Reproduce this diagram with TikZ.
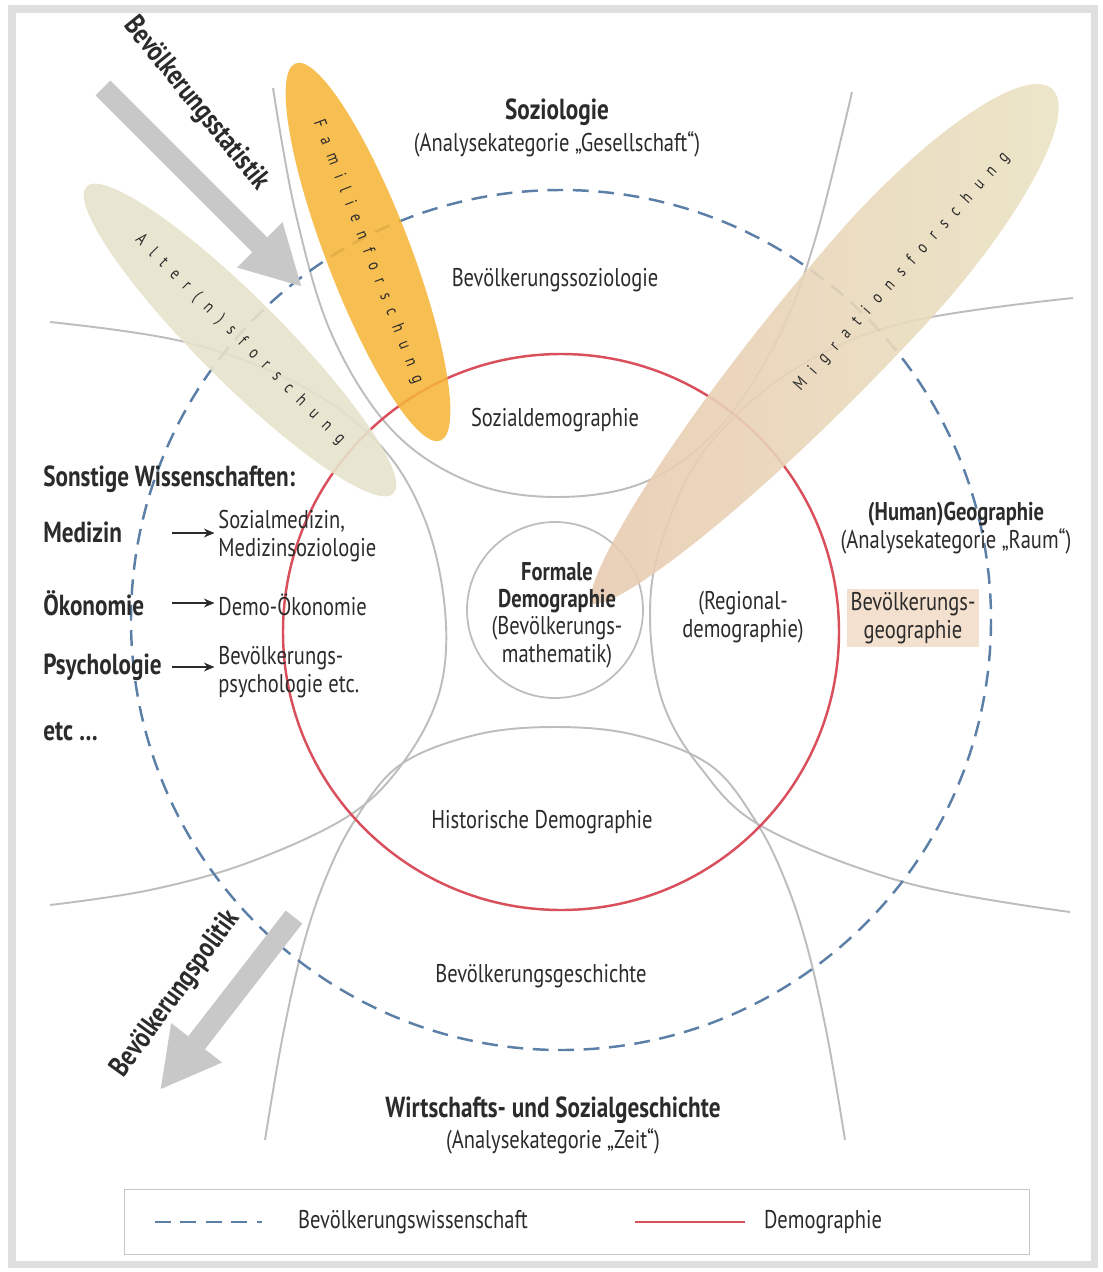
\documentclass[tikz,border=0pt]{standalone}
\usepackage{fontspec}
\setmainfont{PT Sans}[FakeStretch=0.8]
\usetikzlibrary{shapes.geometric,arrows.meta}

\definecolor{ink}{HTML}{2B2B2B}
\definecolor{dashblue}{HTML}{5B7FA6}
\definecolor{demred}{HTML}{D94F5C}
\definecolor{zonegray}{HTML}{BDBDBD}
\definecolor{arrowgray}{HTML}{C8C8C8}
\definecolor{famorange}{HTML}{F6B53A}
\definecolor{altbeige}{HTML}{E6E2CB}
\definecolor{migtop}{HTML}{EAE4C4}
\definecolor{migbot}{HTML}{E8CAB0}
\definecolor{geopeach}{HTML}{F4E0CE}

\begin{document}
\begin{tikzpicture}[x=0.2mm,y=-0.2mm,
  every node/.style={inner sep=0pt,text=ink},
  lbl/.style={font=\fontsize{14.6}{15.6}\selectfont,align=center},
  bold/.style={font=\bfseries\fontsize{16.5}{17}\selectfont,align=center},
  zone/.style={draw=zonegray,line width=1.1pt},
  bwiss/.style={draw=dashblue,line width=1.4pt,dash pattern=on 9pt off 5.5pt},
  demo/.style={draw=demred,line width=1.4pt},
  blob/.style={ellipse,inner sep=0pt},
  bigarrow/.style={draw=arrowgray,line width=12pt,-{Triangle[length=34pt,width=34pt]}},
  listarrow/.style={draw=ink,line width=1pt,-{Stealth[length=6pt,width=5pt]}}]
\useasboundingbox (0,0) rectangle (1102,1272);
% frame
\draw[gray!25,line width=4pt] (12,9) rectangle (1094,1264);

% boundaries of the neighbouring disciplines
\draw[zone] plot[smooth,tension=0.6] coordinates {(273,88) (296,215) (332,335) (392,430) (470,482) (557,497) (645,482) (717,430) (777,340) (815,240) (852,92)};
\draw[zone] plot[smooth,tension=0.6] coordinates {(50,322) (185,342) (300,385) (380,445) (425,520) (445,610) (440,690) (405,760) (350,815) (250,862) (150,890) (50,905)};
\draw[zone] plot[smooth,tension=0.6] coordinates {(1073,298) (903,323) (790,372) (705,450) (662,540) (650,615) (662,700) (700,767) (763,827) (907,883) (1070,912)};
\draw[zone] plot[smooth,tension=0.6] coordinates {(265,1140) (282,1040) (302,950) (325,880) (355,820) (400,765) (475,735) (555,727) (635,735) (710,765) (755,820) (785,880) (808,950) (828,1040) (845,1140)};

\draw[demo] (561,632) circle[radius=278];
\draw[bwiss] (561,620) circle[radius=430];
\node[circle,draw=zonegray,line width=1pt,minimum size=35.2mm] (formal) at (555,610) {};

% research fields
\node[blob,fill=altbeige,fill opacity=0.9,text opacity=1,minimum width=86.8mm,minimum height=16.8mm,rotate=-45] (alter) at (240,340) {\fontsize{10}{12}\selectfont\addfontfeature{LetterSpace=60}Alter(n)sforschung};
\begin{scope}[shift={(822,346)},rotate=48.2]
  \shade[left color=migbot,right color=migtop,fill opacity=0.9]
    (-345,0) .. controls (-340,-22) and (-160,-60) .. (100,-63)
    .. controls (235,-63) and (345,-35) .. (345,0)
    .. controls (345,35) and (235,63) .. (100,63)
    .. controls (-160,60) and (-340,22) .. (-345,0) -- cycle;
\end{scope}
\node[font=\fontsize{10}{12}\selectfont\addfontfeature{LetterSpace=60},rotate=48.2] (migrtxt) at (902,272) {Migrationsforschung};
\node[blob,fill=famorange,fill opacity=0.88,text opacity=1,minimum width=80.8mm,minimum height=16.8mm,rotate=-69] (famil) at (368,252) {\fontsize{10}{12}\selectfont\addfontfeature{LetterSpace=60}Familienforschung};

% arrows
\coordinate (statA) at (103,88);
\coordinate (statB) at (302,287);
\draw[bigarrow] (statA) -- (statB);
\node[bold,rotate=-51] (stat) at (196,104) {Bevölkerungsstatistik};
\coordinate (polA) at (294,917);
\coordinate (polB) at (160,1090);
\draw[bigarrow] (polA) -- (polB);
\node[bold,rotate=54] (pol) at (176,994) {Bevölkerungspolitik};

% disciplines
\node[bold] (soz) at (557,112) {Soziologie};
\node[lbl] (sozk) at (557,144) {(Analysekategorie „Gesellschaft“)};
\node[lbl] (bsoz) at (555,280) {Bevölkerungssoziologie};
\node[lbl] (sdem) at (555,420) {Sozialdemographie};
\node[lbl] (fdem) at (557,615) {\textbf{Formale}\\\textbf{Demographie}\\(Bevölkerungs-\\mathematik)};
\node[lbl] (rdem) at (743,617) {(Regional-\\demographie)};
\node[lbl] (geo) at (956,528) {\textbf{(Human)Geographie}\\(Analysekategorie „Raum“)};
\node[lbl,fill=geopeach,inner sep=2pt] (bgeo) at (913,618) {Bevölkerungs-\\geographie};
\node[lbl] (hdem) at (542,822) {Historische Demographie};
\node[lbl] (bges) at (541,976) {Bevölkerungsgeschichte};
\node[bold] (wsg) at (553,1110) {Wirtschafts- und Sozialgeschichte};
\node[lbl] (wsgk) at (553,1141) {(Analysekategorie „Zeit“)};

% other sciences
\node[bold,anchor=west] (sonst) at (43,479) {Sonstige Wissenschaften:};
\node[bold,anchor=west] (med) at (43,532) {Medizin};
\node[lbl,anchor=west,align=left] (sozmed) at (218,536) {Sozialmedizin,\\Medizinsoziologie};
\node[bold,anchor=west] (oek) at (43,603) {Ökonomie};
\node[lbl,anchor=west] (demoek) at (218,605) {Demo-Ökonomie};
\node[bold,anchor=west] (psy) at (43,667) {Psychologie};
\node[lbl,anchor=west,align=left] (bpsy) at (218,672) {Bevölkerungs-\\psychologie etc.};
\node[bold,anchor=west] (etc) at (43,732) {etc \dots};
\coordinate (m1) at (172,533);
\coordinate (m2) at (172,603);
\coordinate (m3) at (172,667);
\draw[listarrow] (m1) -- ([xshift=-2pt]m1 -| sozmed.west);
\draw[listarrow] (m2) -- ([xshift=-2pt]m2 -| demoek.west);
\draw[listarrow] (m3) -- ([xshift=-2pt]m3 -| bpsy.west);

% legend
\node[draw=gray!45,line width=1pt,minimum width=181mm,minimum height=13mm] (legend) at (577,1222) {};
\coordinate (l1) at (155,1222);
\coordinate (l2) at (262,1222);
\draw[bwiss] (l1) -- (l2);
\node[lbl] (lbw) at (413,1222) {Bevölkerungswissenschaft};
\coordinate (l3) at (635,1222);
\coordinate (l4) at (745,1222);
\draw[demo] (l3) -- (l4);
\node[lbl] (ldem) at (823,1222) {Demographie};
\end{tikzpicture}
\end{document}
